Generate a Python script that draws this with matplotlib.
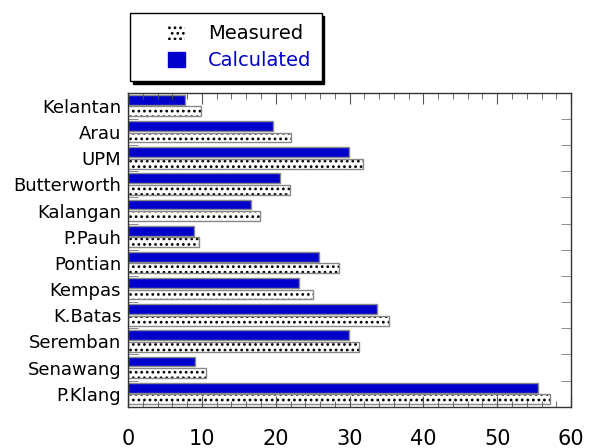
import numpy as np
import matplotlib.pyplot as plt
from matplotlib.patches import Patch
from matplotlib.ticker import MultipleLocator

plt.rcParams['font.family'] = ['DejaVu Sans']
plt.rcParams['hatch.linewidth'] = 1.2

stations = ['Kelantan', 'Arau', 'UPM', 'Butterworth', 'Kalangan', 'P.Pauh',
            'Pontian', 'Kempas', 'K.Batas', 'Seremban', 'Senawang', 'P.Klang']
measured = [9.9, 22.1, 31.8, 21.9, 17.9, 9.6, 28.6, 25.0, 35.3, 31.3, 10.6, 57.1]
calculated = [7.7, 19.6, 29.9, 20.6, 16.7, 8.9, 25.9, 23.2, 33.7, 29.9, 9.0, 55.5]

blue = '#0000cc'

fig = plt.figure(figsize=(5.93, 4.48), dpi=100)
ax = fig.add_axes([0.216, 0.092, 0.747, 0.701])

y = np.arange(len(stations))
ax.barh(y - 0.23, calculated, height=0.38, color=blue,
        edgecolor='#888888', linewidth=1.0)
# dotted fill drawn in black, then a grey outline on top
ax.barh(y + 0.21, measured, height=0.38, color='white', hatch='...',
        edgecolor='black', linewidth=0)
ax.barh(y + 0.21, measured, height=0.38, fill=False,
        edgecolor='#888888', linewidth=1.0)

ax.set_xlim(0, 60)
ax.set_ylim(len(stations) - 0.5, -0.5)
ax.set_yticks(y)
ax.set_yticklabels(stations, fontsize=13)
ax.set_yticks(np.arange(len(stations) + 1) - 0.5, minor=True)
ax.tick_params(axis='y', which='major', length=0, pad=5)
ax.tick_params(axis='y', which='minor', direction='in', length=7,
               color='#777777', left=True, right=True)

ax.xaxis.set_major_locator(MultipleLocator(10))
ax.xaxis.set_minor_locator(MultipleLocator(2))
ax.tick_params(axis='x', which='major', direction='in', length=8, top=True,
               labelsize=15, pad=16, color='#555555')
ax.tick_params(axis='x', which='minor', direction='in', length=4, top=True,
               color='#555555')

for s in ax.spines.values():
    s.set_color('#333333')
    s.set_linewidth(1.0)

handles = [Patch(facecolor='white', edgecolor='black', hatch='...', linewidth=0),
           Patch(facecolor=blue, edgecolor=blue)]
leg = fig.legend(handles, ['Measured', 'Calculated'], loc='upper left',
                 bbox_to_anchor=(0.219, 0.971), fontsize=14, frameon=True,
                 fancybox=False, shadow={'color': 'black', 'alpha': 1},
                 edgecolor='black', handlelength=0.85, handleheight=0.85,
                 handletextpad=2.6, borderpad=0.55, labelspacing=0.45,
                 borderaxespad=0)
leg.get_frame().set_linewidth(1.0)
leg.get_texts()[1].set_color(blue)
for h in leg.legend_handles:
    h.set_x(h.get_x() + 20)

fig.savefig('out.png', dpi=100)
